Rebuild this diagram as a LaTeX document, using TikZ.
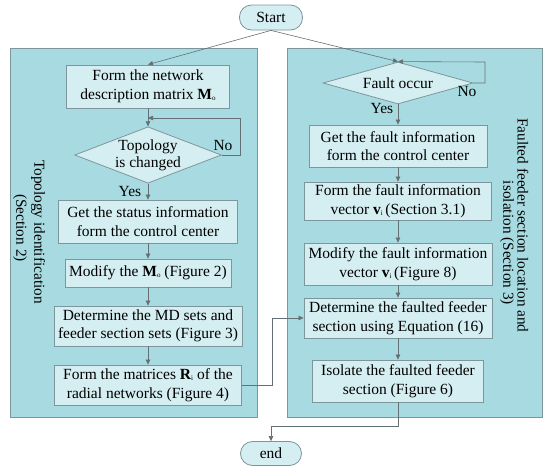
\documentclass[tikz,border=0pt]{standalone}
\usepackage{fontspec}
\setmainfont{Liberation Serif}
\usetikzlibrary{arrows.meta,shapes.geometric}
\definecolor{panelfill}{RGB}{168,219,225}
\definecolor{boxfill}{RGB}{213,238,242}
\definecolor{edgecol}{RGB}{125,150,155}
\definecolor{linecol}{RGB}{100,112,115}
\newcommand{\subo}[1]{\raisebox{-0.15ex}{\scriptsize #1}}
\tikzset{
  panel/.style={fill=panelfill,draw=edgecol,line width=0.8pt},
  procbox/.style={rectangle,fill=boxfill,draw=edgecol,line width=0.8pt,align=center,inner sep=0pt,font=\fontsize{15.5}{18.5}\selectfont},
  decide/.style={diamond,fill=boxfill,draw=edgecol,line width=0.8pt,align=center,inner sep=0pt,font=\fontsize{15.5}{17}\selectfont},
  terminal/.style={rectangle,rounded corners=12pt,fill=boxfill,draw=edgecol,line width=0.8pt,inner sep=0pt,font=\fontsize{15.5}{17}\selectfont},
  conn/.style={draw=linecol,line width=0.6pt,-{Triangle[length=5pt,width=4.5pt]}},
  plain/.style={draw=linecol,line width=0.6pt},
  lbl/.style={font=\fontsize{15.5}{17}\selectfont,inner sep=0pt},
  sidelbl/.style={font=\fontsize{15.3}{17}\selectfont,rotate=-90,inner sep=0pt}
}
\begin{document}
\begin{tikzpicture}[x=1pt,y=-1pt]
\useasboundingbox (0,0) rectangle (550,471);
% panels
\path[panel] (10,48) rectangle (257,417);
\path[panel] (287,48) rectangle (542,417);
% terminals
\node[terminal,minimum width=63pt,minimum height=25pt] (start) at (271,17.5) {Start};
\node[terminal,minimum width=61pt,minimum height=24pt] (end) at (271,453.5) {end};
% left column
\node[procbox,minimum width=163pt,minimum height=43pt] (L1) at (148,86.5) {Form the network\\description matrix \textbf{M}\subo{o}};
\node[decide,minimum width=139pt,minimum height=53pt,aspect=2.6] (D1) at (148,155) {Topology\\is changed};
\node[procbox,minimum width=179pt,minimum height=43pt] (L2) at (148,221.5) {Get the status information\\form the control center};
\node[procbox,minimum width=166pt,minimum height=28pt] (L3) at (148,273) {Modify the \textbf{M}\subo{o} (Figure 2)};
\node[procbox,minimum width=188pt,minimum height=40pt] (L4) at (148,326) {Determine the MD sets and\\feeder section sets (Figure 3)};
\node[procbox,minimum width=187pt,minimum height=40pt] (L5) at (148,385) {Form the matrices \textbf{R}\subo{i} of the\\radial networks (Figure 4)};
% right column
\node[decide,minimum width=150pt,minimum height=42pt,aspect=3.5] (D2) at (398,83) {Fault occur};
\node[procbox,minimum width=178pt,minimum height=42pt] (R1) at (398,146) {Get the fault information\\form the control center};
\node[procbox,minimum width=187pt,minimum height=38pt] (R2) at (398,201) {Form the fault information\\vector \textbf{v}\subo{i}\,(Section 3.1)};
\node[procbox,minimum width=188pt,minimum height=42pt] (R3) at (398,264) {Modify the fault information\\vector \textbf{v}\subo{i}\,(Figure 8)};
\node[procbox,minimum width=188pt,minimum height=40pt] (R4) at (398,318) {Determine the faulted feeder\\section using Equation (16)};
\node[procbox,minimum width=171pt,minimum height=42pt] (R5) at (398,381) {Isolate the faulted feeder\\section (Figure 6)};
% side labels
\node[sidelbl] (sideL1) at (38,232) {Topology identification};
\node[sidelbl] (sideL2) at (20,228) {(Section 2)};
\node[sidelbl] (sideR1) at (523,225.5) {Faulted feeder section location and};
\node[sidelbl] (sideR2) at (507,243) {isolation (Section 3)};
% helper coordinates
\coordinate (l1a) at (240,155);
\coordinate (l1b) at (240,118);
\coordinate (l1c) at (148,118);
\coordinate (r1a) at (485,83);
\coordinate (r1b) at (485,62);
\coordinate (x1) at (272,385);
\coordinate (x2) at (272,318);
\coordinate (e1) at (398,426);
\coordinate (e2) at (271,426);
% connectors
\draw[conn] (start.south) -- (L1.north);
\draw[conn] (start.south) -- (D2.north);
\draw[conn] (L1.south) -- (D1.north);
\draw[plain] (D1.east) -- (l1a) -- (l1b) -- (l1c);
\draw[conn] (l1b) -- (l1c);
\draw[conn] (D1.south) -- (L2.north);
\draw[conn] (L2.south) -- (L3.north);
\draw[conn] (L3.south) -- (L4.north);
\draw[conn] (L4.south) -- (L5.north);
\draw[conn] (D2.east) -- (r1a) -- (r1b) -- (D2.north);
\draw[conn] (D2.south) -- (R1.north);
\draw[conn] (R1.south) -- (R2.north);
\draw[conn] (R2.south) -- (R3.north);
\draw[conn] (R3.south) -- (R4.north);
\draw[conn] (R4.south) -- (R5.north);
\draw[conn] (L5.east) -- (x1) -- (x2) -- (R4.west);
\draw[conn] (R5.south) -- (e1) -- (e2) -- (end.north);
% labels
\node[lbl] (no1) at (223,146) {No};
\node[lbl] (yes1) at (130,192) {Yes};
\node[lbl] (no2) at (467,92) {No};
\node[lbl] (yes2) at (382,109) {Yes};
\end{tikzpicture}
\end{document}
